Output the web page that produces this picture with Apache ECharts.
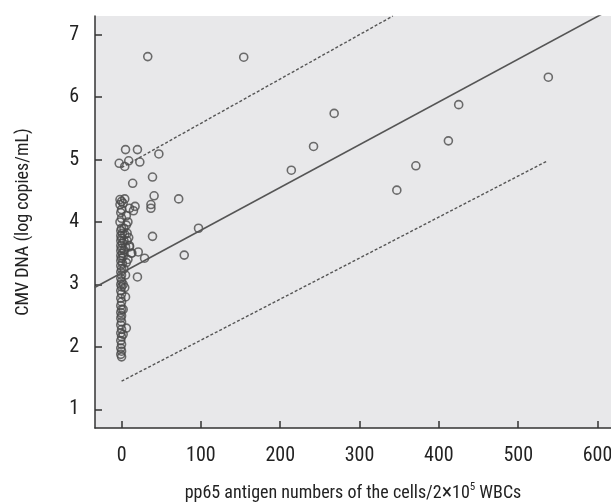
<!DOCTYPE html>
<html><head><meta charset="utf-8">
<script src="https://cdn.jsdelivr.net/npm/echarts@6/dist/echarts.min.js"></script>
<style>html,body{margin:0;padding:0;background:#fff}#c{width:611px;height:503px}</style>
</head><body><div id="c"></div>
<script>
// Observations: [pp65 antigen count, log CMV DNA]
const columnPoints = [
 [0,1.84],[-1,1.88],[0,1.93],[-1,1.98],[0,2.04],[-1,2.10],[0,2.16],[-1,2.22],[0,2.28],[-1,2.35],
 [0,2.40],[-1,2.46],[0,2.50],[-1,2.55],[0,2.60],[-1,2.66],[0,2.72],[-1,2.78],[0,2.85],[-1,2.90],
 [0,2.96],[-1,3.00],[0,3.05],[-1,3.10],[0,3.15],[-1,3.20],[0,3.25],[-1,3.30],[1,3.34],[-1,3.38],
 [0,3.42],[-1,3.46],[1,3.50],[-1,3.54],[0,3.58],[-1,3.62],[1,3.66],[-1,3.70],[0,3.74],[-1,3.78],
 [1,3.82],[-1,3.86],[0,3.90],[-2,4.00],[0,4.06],[-1,4.15],[0,4.20],[-2,4.28],[0,4.33],[-2,4.36],
 [3,3.55],[5,3.60],[7,3.70],[4,3.80],[6,3.35],[8,3.40],[3,3.25],[5,3.15],[2,3.00],[4,2.95],
 [7,3.82],[9,3.75],[10,3.62],[12,3.50],[3,3.90],[6,4.10],[10,4.22],[15,4.18],[17,4.25],[2,4.30],
 [4,4.37],[8,4.00],[6,3.95],[2,3.45],[3,3.70],[2,2.60],[2,2.20]
];
const sidePoints = [
 [5,2.80],[6,2.30],[20,3.12],[21,3.52],[29,3.42],[13,3.50],[10,3.60],
 [-3,4.94],[4,4.89],[9,4.98],[5,5.16],[20,5.16],[23,4.96],[14,4.62],
 [39,4.72],[41,4.42],[37,4.28],[37,4.22],[39,3.77],[72,4.37],[79,3.47],[97,3.90],
 [33,6.65],[154,6.64],[47,5.09],[214,4.83],[242,5.21],[268,5.74],
 [347,4.51],[371,4.90],[412,5.30],[425,5.88],[538,6.32]
];
const fitLine = [[-34,2.95],[617,7.41]];
const upperBand = [[0,4.87],[342,7.30]];
const lowerBand = [[0,1.45],[537,4.98]];
const xTicks = [0,100,200,300,400,500,600];
const yTicks = [1,2,3,4,5,6,7];

const FONT = "'Liberation Sans Narrow','Roboto Condensed','Liberation Sans',sans-serif";
const dark = '#333';
const chart = echarts.init(document.getElementById('c'));
chart.setOption({
  animation:false,
  grid:{left:95,top:16,right:0,bottom:75,show:true,backgroundColor:'#e8e8ea',borderWidth:0,
        containLabel:false,outerBoundsMode:'none'},
  xAxis:{type:'value',min:-33.5,max:617,
    axisLine:{onZero:false,lineStyle:{color:dark,width:1.5}},
    axisTick:{inside:true,length:7,customValues:xTicks,lineStyle:{color:dark,width:1.5}},
    axisLabel:{customValues:xTicks,color:'#222',fontSize:20,fontFamily:FONT,margin:18},
    splitLine:{show:false},
    name:'pp65 antigen numbers of the cells/2{op|×}10{sup|5} WBCs',
    nameLocation:'middle',nameGap:54,
    nameTextStyle:{color:'#222',fontSize:18,fontFamily:FONT,
      rich:{sup:{fontSize:11,verticalAlign:'top',padding:[0,0,9,0],fontFamily:FONT,color:'#222'},
            op:{fontSize:22,fontFamily:FONT,color:'#222'}}}
  },
  yAxis:{type:'value',min:0.7,max:7.3,
    axisLine:{onZero:false,lineStyle:{color:dark,width:1.5}},
    axisTick:{inside:true,length:7,customValues:yTicks,lineStyle:{color:dark,width:1.5}},
    axisLabel:{customValues:yTicks,color:'#222',fontSize:20,fontFamily:FONT,margin:16},
    splitLine:{show:false},
    name:'CMV DNA (log copies/mL)',nameLocation:'middle',nameGap:63,
    nameTextStyle:{color:'#222',fontSize:18,fontFamily:FONT}
  },
  series:[
    {type:'line',data:fitLine,showSymbol:false,clip:true,lineStyle:{color:'#555',width:1.6}},
    {type:'line',data:upperBand,showSymbol:false,clip:true,lineStyle:{color:'#555',width:1.4,type:[3,2]}},
    {type:'line',data:lowerBand,showSymbol:false,clip:true,lineStyle:{color:'#555',width:1.4,type:[3,2]}},
    {type:'scatter',data:columnPoints.concat(sidePoints),symbol:'circle',symbolSize:8,
      itemStyle:{color:'rgba(0,0,0,0)',borderColor:'#4a4a4a',borderWidth:1.6}}
  ]
});
</script></body></html>
